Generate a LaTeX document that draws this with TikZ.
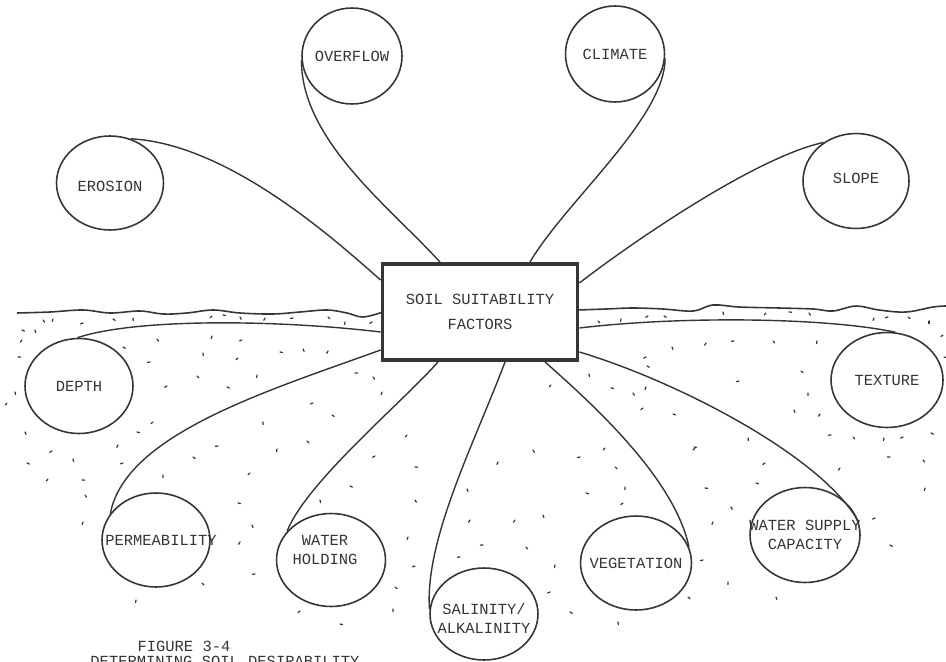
\documentclass[tikz,border=0pt]{standalone}
\usepackage{fontspec}
\setmonofont{Liberation Mono}
\usetikzlibrary{shapes.geometric,calc}

\definecolor{ink}{HTML}{353535}

\tikzset{
    txt/.style={font=\ttfamily\fontsize{8.8}{10.8}\selectfont, text=ink},
    factor/.style={draw=ink, line width=0.9pt, ellipse, inner sep=0pt,
        minimum width=2.16cm, minimum height=1.88cm},
    mainbox/.style={draw=ink, line width=2.2pt, rectangle, txt, align=center,
        minimum width=3.9cm, minimum height=1.92cm},
    link/.style={draw=ink, line width=0.8pt},
    ground/.style={draw=ink, line width=0.9pt},
    stipple/.style={draw=ink, line width=0.7pt, line cap=round},
}

\begin{document}
\begin{tikzpicture}[x=0.02cm, y=-0.02cm]
    \useasboundingbox (0,0) rectangle (946,662);

    % ground surface
    \draw[ground] plot[smooth, tension=0.6] coordinates {(17,313) (50,312) (83,310) (110,313) (140,311) (163,314) (187,313) (213,310) (240,313) (273,314) (300,312) (327,310) (347,313) (363,317) (383,312)};
    \draw[ground] plot[smooth, tension=0.6] coordinates {(578,310) (606,309) (633,308) (663,309) (693,311) (713,305) (739,307) (779,308) (813,309) (833,311) (856,306) (879,310) (906,312) (933,307) (946,306)};

    % soil stipple
    \foreach \x/\y [count=\i] in {43/320,53/319,83/323,113/319,133/318,212/316,223/315,240/317,265/318,293/318,328/317,345/322,372/322,22/330,35/330,22/340,18/357,157/339,212/336,242/340,123/347,203/353,238/358,280/352,303/349,328/351,150/362,197/376,257/375,167/386,227/387,15/392,7/403,355/373,373/377,382/392,313/403,332/415,263/422,153/422,137/432,25/432,118/445,218/446,307/441,277/449,52/451,27/463,73/459,48/479,82/480,85/495,83/522,123/463,193/457,163/475,250/473,238/503,252/525,240/542,255/574,202/583,136/600,375/456,350/486,320/500,407/435,415/467,415/500,408/537,415/566,395/587,393/609,300/611,340/624,467/489,470/520,460/557,598/321,621/319,648/316,664/316,723/312,766/313,789/312,809/313,874/318,888/317,908/317,929/321,943/335,944/357,672/347,706/343,734/341,773/341,817/341,646/357,647/366,589/374,551/385,611/388,633/393,646/387,739/381,801/371,808/393,643/408,673/414,794/410,820/414,831/435,853/437,884/438,903/437,931/433,748/438,605/448,694/447,533/450,498/462,580/457,615/467,625/487,623/503,586/493,543/515,515/520,483/545,526/547,555/565,550/592,570/612,618/622,695/448,705/488,731/507,713/522,703/560,688/597,728/582,765/463,756/483,776/597,840/468,890/457,923/460,925/488,875/518,890/545}
        \draw[stipple] (\x,\y) -- ++({mod(\i*53,180)}:2.6);

    % central box
    \node[mainbox] (soil) at (480,312) {SOIL SUITABILITY\\[3.4pt]FACTORS};

    % factors above ground
    \node[factor, minimum width=2cm, minimum height=1.92cm, label={[txt]center:OVERFLOW}] (overflow) at (352,56) {};
    \node[factor, minimum width=1.98cm, minimum height=1.92cm, label={[txt]center:CLIMATE}] (climate) at (615,54) {};
    \node[factor, minimum width=2.14cm, label={[txt, yshift=-0.06cm]center:EROSION}] (erosion) at (110,183) {};
    \node[factor, minimum width=2.12cm, minimum height=1.9cm, label={[txt, yshift=0.05cm]center:SLOPE}] (slope) at (856,181) {};

    % factors below ground
    \node[factor, minimum height=1.9cm, label={[txt]center:DEPTH}] (depth) at (79,386) {};
    \node[factor, minimum width=2.24cm, minimum height=1.9cm, label={[txt]center:TEXTURE}] (texture) at (887,380) {};
    \node[factor, label={[txt, xshift=0.1cm]center:PERMEABILITY}] (perm) at (156,540) {};
    \node[factor, minimum width=2.18cm, minimum height=1.86cm, label={[txt, align=center, xshift=-0.12cm, yshift=0.2cm]center:WATER\\HOLDING}] (whold) at (331,560) {};
    \node[factor, minimum height=1.84cm, label={[txt, align=center, yshift=-0.08cm]center:SALINITY/\\ALKALINITY}] (salin) at (484,614) {};
    \node[factor, minimum width=2.22cm, label={[txt]center:VEGETATION}] (veget) at (636,563) {};
    \node[factor, minimum width=2.2cm, minimum height=1.9cm, label={[txt, align=center]center:WATER SUPPLY\\CAPACITY}] (wsupply) at (805,535) {};

    % connectors
    \draw[link] (erosion.65) .. controls +(100,5) and +(-40,-35) .. ($(soil.west)+(0,-32)$);
    \draw[link] (overflow.185) .. controls +(0,80) and +(-50,-55) .. ($(soil.north)+(-40,0)$);
    \draw[link] (climate.355) .. controls +(0,60) and +(35,-60) .. ($(soil.north)+(50,0)$);
    \draw[link] (slope.130) .. controls +(-70,15) and +(45,-35) .. ($(soil.east)+(0,-29)$);
    \draw[link] ($(soil.west)+(0,20)$) .. controls +(-100,-12) and +(60,-20) .. (depth.92);
    \draw[link] ($(soil.east)+(0,16)$) .. controls +(100,-12) and +(-70,-15) .. (texture.80);
    \draw[link] ($(soil.west)+(0,38)$) .. controls +(-110,40) and +(15,-80) .. (perm.150);
    \draw[link] ($(soil.south)+(-42,0)$) .. controls +(-35,40) and +(20,-50) .. (whold.147);
    \draw[link] ($(soil.south)+(25,0)$) .. controls +(-30,80) and +(-5,-70) .. (salin.175);
    \draw[link] ($(soil.south)+(65,0)$) .. controls +(45,40) and +(-15,-70) .. (veget.17);
    \draw[link] ($(soil.east)+(0,40)$) .. controls +(100,30) and +(-35,-65) .. (wsupply.13);

    % caption
    \node[txt, anchor=base] (figno) at (184,651) {FIGURE 3-4};
    \node[txt, anchor=base] (figtitle) at (225,666) {DETERMINING SOIL DESIRABILITY};
\end{tikzpicture}
\end{document}
